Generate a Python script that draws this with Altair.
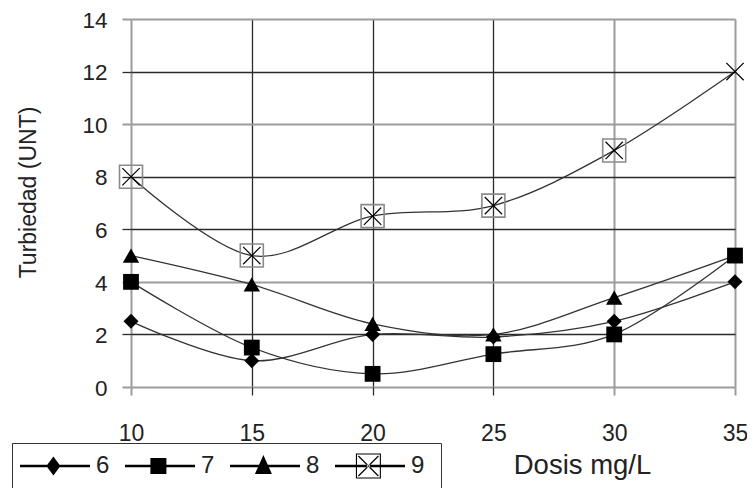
import altair as alt
import pandas as pd

# ---------------- data ----------------
dosis = [10, 15, 20, 25, 30, 35]
serie_6 = [2.5, 1.0, 2.0, 1.9, 2.5, 4.0]
serie_7 = [4.0, 1.5, 0.5, 1.25, 2.0, 5.0]
serie_8 = [5.0, 3.9, 2.4, 2.0, 3.4, 5.0]
serie_9 = [8.0, 5.0, 6.5, 6.9, 9.0, 12.0]
series_names = ["6", "7", "8", "9"]
x_ticks = [10, 15, 20, 25, 30, 35]
y_ticks = [0, 2, 4, 6, 8, 10, 12, 14]

rows = []
for name, vals in zip(series_names, [serie_6, serie_7, serie_8, serie_9]):
    for d, v in zip(dosis, vals):
        rows.append({"dosis": d, "turbiedad": v, "serie": name})
df = pd.DataFrame(rows)

FONT = "Liberation Sans"
TEXT = "#222222"
DARK = "#2b2b2b"
GRAY = "#9c9c9c"

# ---------------- legend symbol paths (style only) ----------------
R = 15.0  # symbol half-size in px (symbolSize = (2R)^2)


def ux(px):
    return round((px - R) / R, 4)


def uy(py):
    return round(py / R, 4)


def poly(pts):
    s = "M" + " L".join(f"{ux(x)},{uy(y)}" for x, y in pts) + " Z"
    return s


def thick_seg(x0, y0, x1, y1, t):
    dx, dy = x1 - x0, y1 - y0
    ln = (dx * dx + dy * dy) ** 0.5
    nx, ny = -dy / ln * t, dx / ln * t
    return poly([(x0 + nx, y0 + ny), (x1 + nx, y1 + ny), (x1 - nx, y1 - ny), (x0 - nx, y0 - ny)])


CX = 33.4
# invisible anchor points that only widen the entry bounds (room below, like the cut-off box)
down = f" M{ux(CX)},{uy(30)} Z M{ux(CX)},{uy(-14)} Z"
line_path = poly([(0, -1.15), (70, -1.15), (70, 1.15), (0, 1.15)])
p_diamond = line_path + " " + poly([(CX, -9.5), (CX + 7, 0), (CX, 9.5), (CX - 7, 0)]) + down
p_square = line_path + " " + poly([(CX - 8, -8), (CX + 8, -8), (CX + 8, 8), (CX - 8, 8)]) + down
p_triangle = line_path + " " + poly([(CX, -11), (CX + 8.5, 8), (CX - 8.5, 8)]) + down
ring = poly([(CX - 12.5, -12.5), (CX + 12.5, -12.5), (CX + 12.5, 12.5), (CX - 12.5, 12.5)]) + " " + \
    poly([(CX - 11.4, -11.4), (CX - 11.4, 11.4), (CX + 11.4, 11.4), (CX + 11.4, -11.4)])
p_box = line_path + " " + ring + " " + thick_seg(CX - 10, -10, CX + 10, 10, 0.6) + " " + \
    thick_seg(CX - 10, 10, CX + 10, -10, 0.6) + f" M{ux(97)},0 Z" + down
legend_paths = [p_diamond, p_square, p_triangle, p_box]


def cond(test, a, b):
    return {"condition": {"test": test, "value": a}, "value": b}


x_dark = "datum.value == 15 || datum.value == 20 || datum.value == 25"
y_dark = "datum.value == 2 || datum.value == 6 || datum.value == 8 || datum.value == 12"

x_enc = alt.X(
    "dosis:Q",
    scale=alt.Scale(domain=[10, 35], nice=False, zero=False),
    axis=alt.Axis(
        values=x_ticks, format="d", title="Dosis mg/L", domain=False,
        grid=True, gridColor=cond(x_dark, DARK, GRAY), gridWidth=cond(x_dark, 1.3, 2.0),
        ticks=True, tickColor=cond(x_dark, DARK, GRAY), tickWidth=cond(x_dark, 1.3, 2.0), tickSize=8,
        labelFont=FONT, labelFontSize=23, labelColor=TEXT, labelPadding=27, labelFlush=False,
        titleFont=FONT, titleFontSize=27.5, titleFontWeight="normal", titleColor=TEXT,
        titleX=451, titleY=78, titleAlign="center", titleBaseline="middle",
    ),
)
y_enc = alt.Y(
    "turbiedad:Q",
    scale=alt.Scale(domain=[0, 14], nice=False),
    axis=alt.Axis(
        values=y_ticks, format="d", title="Turbiedad (UNT)", domain=False,
        grid=True, gridColor=cond(y_dark, DARK, GRAY), gridWidth=cond(y_dark, 1.3, 2.0),
        ticks=True, tickColor=cond(y_dark, DARK, GRAY), tickWidth=cond(y_dark, 1.3, 2.0), tickSize=9,
        labelFont=FONT, labelFontSize=22.5, labelColor=TEXT, labelPadding=15, labelFlush=False,
        labelOffset=1.2,
        titleFont=FONT, titleFontSize=23, titleFontWeight="normal", titleColor=TEXT,
        titleX=-103, titleY=173, titleAngle=270, titleAlign="center", titleBaseline="middle",
    ),
)

base = alt.Chart(df)

lines = base.mark_line(interpolate="cardinal", color="#333333", strokeWidth=1.3).encode(
    x=x_enc, y=y_enc, detail="serie:N"
)

pts6 = base.transform_filter("datum.serie == '6'").mark_point(
    shape="diamond", filled=True, color="black", size=225, opacity=1
).encode(x=x_enc, y=y_enc)
pts7 = base.transform_filter("datum.serie == '7'").mark_point(
    shape="square", filled=True, color="black", size=250, opacity=1
).encode(x=x_enc, y=y_enc)
pts8 = base.transform_filter("datum.serie == '8'").mark_point(
    shape="triangle-up", filled=True, color="black", size=270, opacity=1
).encode(x=x_enc, y=y_enc)
pts9_box = base.transform_filter("datum.serie == '9' && datum.dosis < 35").mark_point(
    shape="square", filled=False, stroke="#8a8a8a", strokeWidth=1.6, size=529, opacity=1
).encode(x=x_enc, y=y_enc)
pts9_x = base.transform_filter("datum.serie == '9'").mark_point(
    shape="M-1,-1L1,1M-1,1L1,-1", filled=False, stroke="black", strokeWidth=1.2, size=300, opacity=1
).encode(x=x_enc, y=y_enc)

legend_layer = base.transform_filter("false").mark_point(
    filled=True, color="black", opacity=1, strokeWidth=0
).encode(
    shape=alt.Shape(
        "serie:N",
        scale=alt.Scale(domain=series_names, range=legend_paths),
        legend=alt.Legend(
            title=None, orient="none", legendX=-119, legendY=424, direction="horizontal",
            symbolSize=(2 * R) ** 2, symbolStrokeWidth=0, symbolFillColor="black", symbolOpacity=1,
            labelFont=FONT, labelFontSize=24, labelColor=TEXT, labelOffset=46,
            columnPadding=15, padding=8, strokeColor="#333333",
        ),
    )
)

chart = alt.layer(lines, pts6, pts7, pts8, pts9_box, pts9_x, legend_layer).properties(
    width=604, height=368, autosize="none",
    padding={"left": 123, "top": 11, "right": 12, "bottom": 110},
    background="white",
).configure_view(stroke=None)

chart.save("out.html", embed_options={"renderer": "svg", "actions": False})
